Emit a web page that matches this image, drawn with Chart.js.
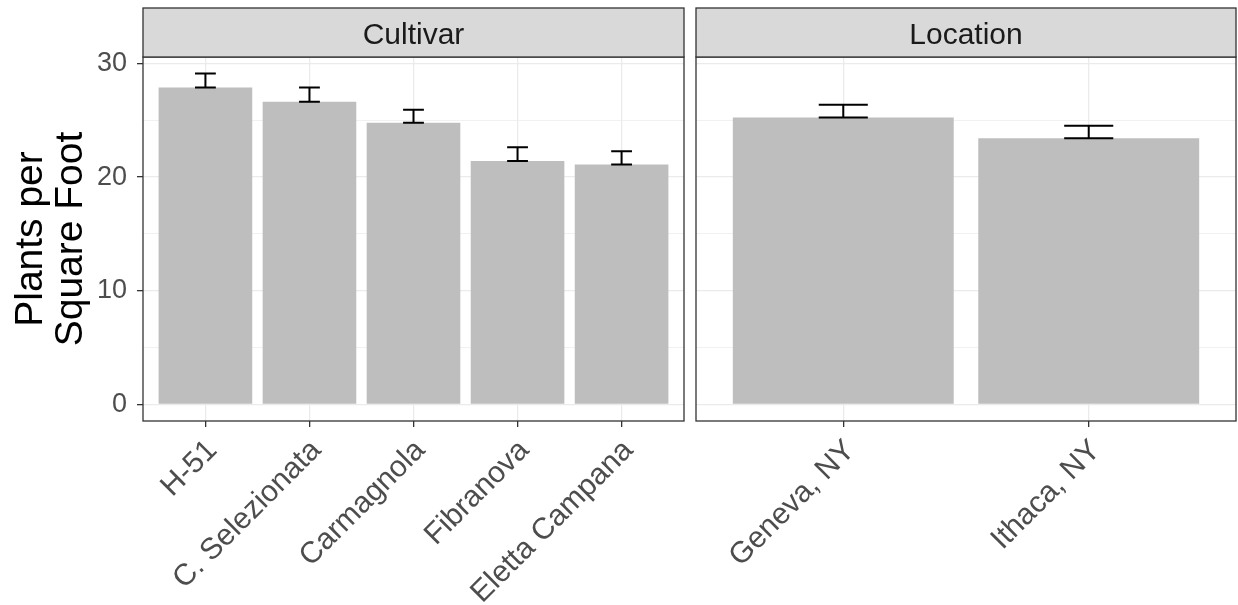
<!DOCTYPE html>
<html>
<head>
<meta charset="utf-8">
<script src="https://cdn.jsdelivr.net/npm/chart.js@4"></script>
<style>
  html, body { margin: 0; padding: 0; background: #ffffff; }
  #wrap { position: relative; width: 1238px; height: 605px; }
  #wrap canvas { position: absolute; left: 0; top: 0; }
</style>
</head>
<body>
<div id="wrap">
  <canvas id="chartCultivar" width="1238" height="605"></canvas>
  <canvas id="chartLocation" width="1238" height="605"></canvas>
</div>
<script>
const cultivars = ["H-51", "C. Selezionata", "Carmagnola", "Fibranova", "Eletta Campana"];
const cultivarMeans = [27.88, 26.63, 24.79, 21.42, 21.10];
const cultivarSE = [1.23, 1.25, 1.14, 1.20, 1.17];

const locations = ["Geneva, NY", "Ithaca, NY"];
const locationMeans = [25.25, 23.41];
const locationSE = [1.12, 1.11];

const yTicks = [0, 5, 10, 15, 20, 25, 30];
const yMin = -1.46;
const yMax = 30.57;

const FONT = "'Liberation Sans', Arial, sans-serif";
const COLORS = {
  bar: "#bebebe",
  grid: "#ebebeb",
  border: "#333333",
  strip: "#d9d9d9",
  tickText: "#4d4d4d",
  stripText: "#1a1a1a",
};

// panel border, strip on top, and error bars drawn from the scales
const facetPanel = {
  id: "facetPanel",
  afterDatasetsDraw(chart, args, opts) {
    const { ctx, scales: { x, y } } = chart;
    const pts = chart.data.datasets[0].data;
    const half = Math.abs(x.getPixelForValue(0.1) - x.getPixelForValue(0));
    ctx.save();
    ctx.strokeStyle = "#000000";
    ctx.lineWidth = 2;
    pts.forEach((pt, i) => {
      const cx = x.getPixelForValue(pt.x);
      const y0 = y.getPixelForValue(pt.y);
      const y1 = y.getPixelForValue(pt.y + opts.se[i]);
      ctx.beginPath();
      ctx.moveTo(cx, y0); ctx.lineTo(cx, y1);
      ctx.moveTo(cx - half, y0); ctx.lineTo(cx + half, y0);
      ctx.moveTo(cx - half, y1); ctx.lineTo(cx + half, y1);
      ctx.stroke();
    });
    ctx.restore();
  },
  afterDraw(chart, args, opts) {
    const { ctx, chartArea: a } = chart;
    const stripTop = 8;
    ctx.save();
    ctx.strokeStyle = COLORS.border;
    ctx.lineWidth = 1.3;
    ctx.strokeRect(a.left, a.top, a.right - a.left, a.bottom - a.top);
    ctx.fillStyle = COLORS.strip;
    ctx.fillRect(a.left, stripTop, a.right - a.left, a.top - stripTop);
    ctx.strokeRect(a.left, stripTop, a.right - a.left, a.top - stripTop);
    ctx.fillStyle = COLORS.stripText;
    ctx.font = "30px " + FONT;
    ctx.textAlign = "center";
    ctx.textBaseline = "alphabetic";
    ctx.fillText(opts.label, (a.left + a.right) / 2, a.top - 13);
    ctx.restore();
  }
};

function buildChart(canvasId, labels, means, se, facetLabel, padding, showY) {
  const canvas = document.getElementById(canvasId);
  return new Chart(canvas, {
    type: "bar",
    data: {
      datasets: [{
        data: means.map((v, i) => ({ x: i, y: v })),
        backgroundColor: COLORS.bar,
        borderWidth: 0,
        categoryPercentage: 1,
        barPercentage: 0.9,
      }]
    },
    plugins: [facetPanel],
    options: {
      responsive: false,
      animation: false,
      layout: { padding },
      plugins: {
        legend: { display: false },
        tooltip: { enabled: false },
        facetPanel: { label: facetLabel, se },
      },
      scales: {
        x: {
          type: "linear",
          offset: false,
          min: -0.6,
          max: labels.length - 0.4,
          afterBuildTicks: s => { s.ticks = labels.map((_, i) => ({ value: i })); },
          afterFit: s => { s.height = 184; },
          border: { display: false },
          grid: {
            offset: false,
            color: COLORS.grid,
            lineWidth: 1.3,
            tickColor: COLORS.border,
            tickLength: 6,
            tickWidth: 1.3,
          },
          ticks: {
            autoSkip: false,
            minRotation: 45,
            maxRotation: 45,
            padding: 6,
            labelOffset: 7,
            color: COLORS.tickText,
            font: { family: FONT, size: 30 },
            callback: v => labels[v],
          }
        },
        y: {
          min: yMin,
          max: yMax,
          afterBuildTicks: s => { s.ticks = yTicks.map(v => ({ value: v })); },
          afterFit: s => { s.width = showY ? 143 : 0; },
          border: { display: false },
          grid: {
            color: COLORS.grid,
            lineWidth: c => (c.tick && c.tick.value % 10 === 0 ? 1.3 : 0.7),
            drawTicks: showY,
            tickLength: 6,
            tickWidth: 1.3,
            tickColor: c => (c.tick && c.tick.value % 10 === 0 ? COLORS.border : "rgba(0,0,0,0)"),
          },
          ticks: {
            display: showY,
            padding: 10,
            color: COLORS.tickText,
            font: { family: FONT, size: 27 },
            callback: v => (v % 10 === 0 ? String(v) : ""),
          },
          title: {
            display: showY,
            text: ["Plants per", "Square Foot"],
            color: "#000000",
            font: { family: FONT, size: 39, lineHeight: 1.03 },
            padding: { top: 11, bottom: 0 },
          }
        }
      }
    }
  });
}

buildChart("chartCultivar", cultivars, cultivarMeans, cultivarSE, "Cultivar",
  { left: 0, right: 554, top: 57, bottom: 0 }, true);
buildChart("chartLocation", locations, locationMeans, locationSE, "Location",
  { left: 696, right: 2, top: 57, bottom: 0 }, false);
</script>
</body>
</html>
